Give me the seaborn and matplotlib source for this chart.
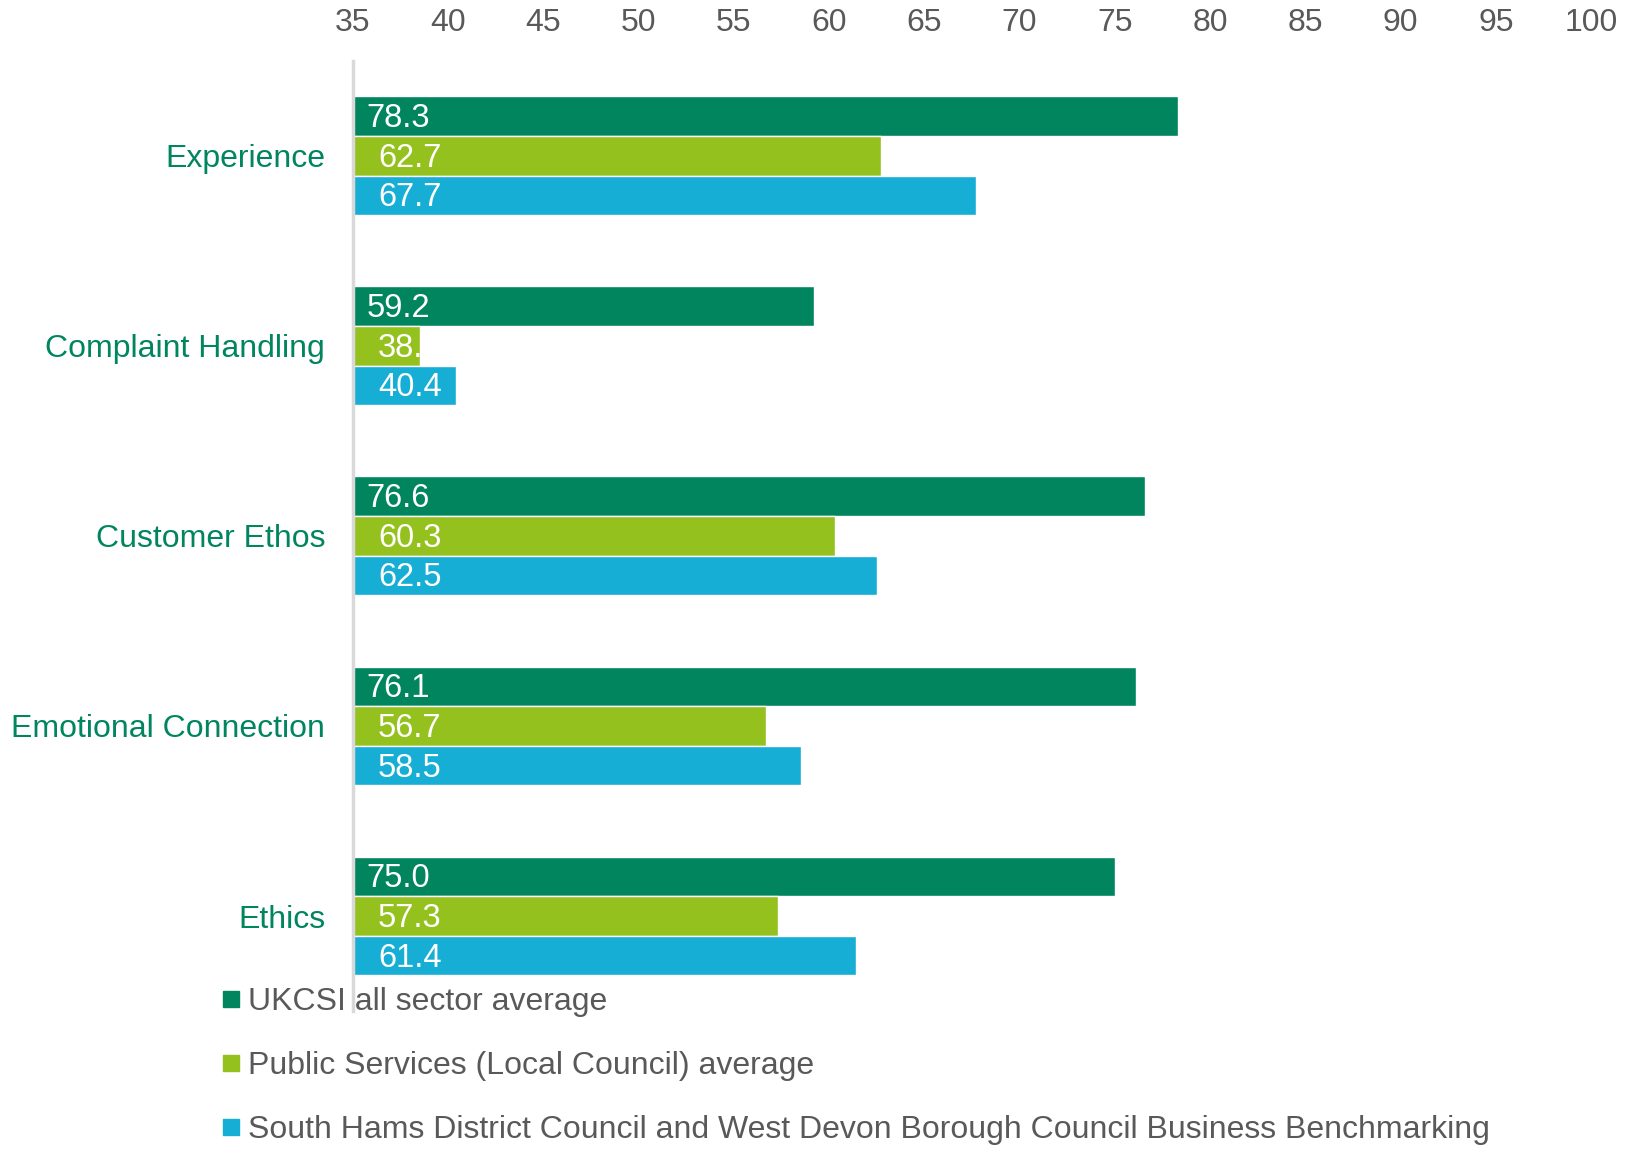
import matplotlib
matplotlib.use("Agg")
import matplotlib.pyplot as plt
import seaborn as sns
import pandas as pd
from matplotlib.lines import Line2D

categories = ["Experience", "Complaint Handling", "Customer Ethos", "Emotional Connection", "Ethics"]
series_names = [
    "UKCSI all sector average",
    "Public Services (Local Council) average",
    "South Hams District Council and West Devon Borough Council Business Benchmarking",
]
ukcsi = [78.3, 59.2, 76.6, 76.1, 75.0]
public = [62.7, 38.5, 60.3, 56.7, 57.3]
south_hams = [67.7, 40.4, 62.5, 58.5, 61.4]
x_ticks = [35, 40, 45, 50, 55, 60, 65, 70, 75, 80, 85, 90, 95, 100]

colors = ["#00855F", "#95C11F", "#17AED5"]
label_green = "#00855F"
grey = "#595959"

rows = []
for name, vals in zip(series_names, [ukcsi, public, south_hams]):
    for c, v in zip(categories, vals):
        rows.append({"Category": c, "Series": name, "Value": v})
df = pd.DataFrame(rows)

sns.set_theme(style="white")
plt.rcParams["font.family"] = ["Liberation Sans", "DejaVu Sans"]

fig = plt.figure(figsize=(16.36, 11.49), dpi=100)
ax = fig.add_axes([0.2157, 0.1200, 0.7568, 0.8272])

sns.barplot(data=df, y="Category", x="Value", hue="Series", order=categories,
            hue_order=series_names, palette=colors, orient="h", width=0.625,
            saturation=1, ax=ax, legend=False, errorbar=None)

ax.set_xlim(35, 100)
ax.set_xticks(x_ticks)
ax.set_xticklabels([str(t) for t in x_ticks])
ax.xaxis.tick_top()
ax.tick_params(axis="x", length=0, pad=16.5, labelsize=23, labelcolor=grey)
ax.tick_params(axis="y", length=0, pad=20, labelsize=23, labelcolor=label_green)
ax.set_xlabel("")
ax.set_ylabel("")
for s in ["top", "right", "bottom"]:
    ax.spines[s].set_visible(False)
ax.spines["left"].set_color("#D9D9D9")
ax.spines["left"].set_linewidth(2.5)
ax.grid(False)

offsets = [10, 18, 18]
for cont, vals, off in zip(ax.containers, [ukcsi, public, south_hams], offsets):
    for bar, v in zip(cont, vals):
        yc = bar.get_y() + bar.get_height() / 2
        t = ax.annotate(f"{v:.1f}", xy=(35, yc), xytext=(off, -1.8), textcoords="offset points",
                        ha="left", va="center", color="white", fontsize=23.5,
                        annotation_clip=False)
        t.set_clip_on(True)
        t.set_clip_path(bar)

handles = [Line2D([0], [0], marker="s", linestyle="none", markersize=11.5,
                  markerfacecolor=c, markeredgecolor=c) for c in colors]
leg = fig.legend(handles, series_names, loc="upper left", bbox_to_anchor=(0.136, 0.141),
                 frameon=False, fontsize=23, labelspacing=1.07, handlelength=0.55,
                 handletextpad=0.25, borderaxespad=0, borderpad=0)
for txt in leg.get_texts():
    txt.set_color(grey)

fig.savefig("out.png", dpi=100)
